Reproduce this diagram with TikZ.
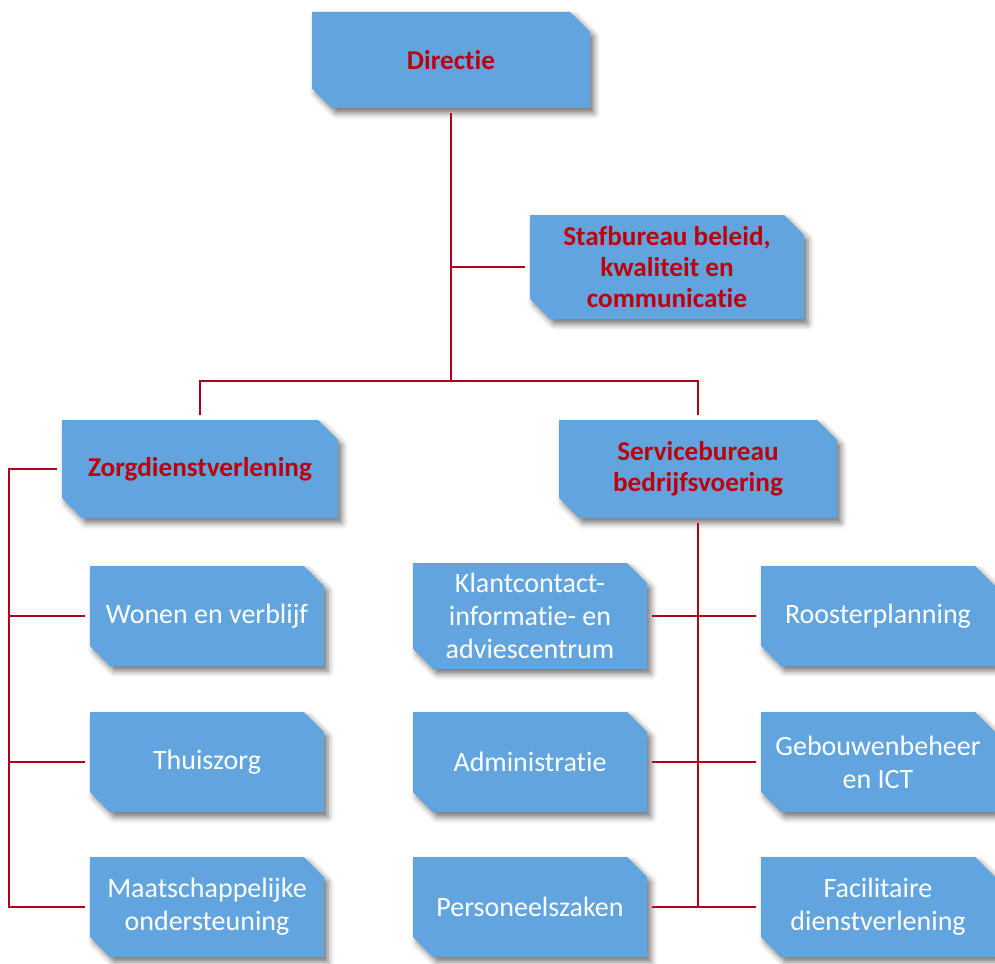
\documentclass[tikz,border=0pt]{standalone}
\usepackage{fontspec}
\setmainfont{Carlito}[Ligatures=CommonOff]
\usetikzlibrary{shapes.misc,shadows.blur}
\definecolor{boxblue}{RGB}{98,164,222}
\definecolor{linkred}{RGB}{178,0,28}
\definecolor{headred}{RGB}{188,0,10}

\begin{document}
\begin{tikzpicture}[x=0.5pt,y=-0.5pt,
  unit/.style={chamfered rectangle, chamfered rectangle corners={north east,south west}, chamfered rectangle sep=5pt,
    fill=boxblue, inner sep=0pt, outer sep=2.5pt, align=center,
    blur shadow={shadow xshift=2pt,shadow yshift=-2.5pt,shadow blur radius=3pt,shadow opacity=55}},
  head/.style={unit, text=headred, font=\bfseries\fontsize{13.6}{15.5}\selectfont},
  sub/.style={unit, text=white, font=\fontsize{14}{16.5}\selectfont, minimum width=117pt, minimum height=50pt},
  link/.style={draw=linkred, line width=1pt}]
\useasboundingbox (0,0) rectangle (995,963);
% top levels
\node[head, minimum width=139pt, minimum height=48pt] (dir) at (451,60) {Directie};
\node[head, minimum width=137pt, minimum height=52pt] (staf) at (667,267) {Stafbureau beleid,\\kwaliteit en\\communicatie};
\node[head, minimum width=138pt, minimum height=49pt] (zorg) at (200,469) {Zorgdienstverlening};
\node[head, minimum width=139pt, minimum height=49pt] (serv) at (698,469) {Servicebureau\\bedrijfsvoering};
% units
\node[sub] (wonen) at (207,616) {Wonen en verblijf};
\node[sub] (thuis) at (207,762) {Thuiszorg};
\node[sub] (maat) at (207,907) {Maatschappelijke\\ondersteuning};
\node[sub] (klant) at (530,616) {Klantcontact-\\informatie- en\\adviescentrum};
\node[sub] (admin) at (530,762) {Administratie};
\node[sub] (pers) at (530,907) {Personeelszaken};
\node[sub] (rooster) at (878,616) {Roosterplanning};
\node[sub] (gebouw) at (878,762) {Gebouwenbeheer\\en ICT};
\node[sub] (facil) at (878,907) {Facilitaire\\dienstverlening};
% connectors
\coordinate (fork) at (451,381); \coordinate (lrail) at (9,469);
\draw[link] (dir.south) -- (fork);
\draw[link] (dir.south |- staf.west) -- (staf.west);
\draw[link] (fork) -| (zorg.north); \draw[link] (fork) -| (serv.north);
\draw[link] (zorg.west) -- (lrail) |- (maat.west);
\foreach \n in {wonen,thuis} \draw[link] (lrail |- \n.west) -- (\n.west);
\draw[link] (serv.south) -- (serv.south |- facil.west);
\draw[link] (klant.east) -- (rooster.west); \draw[link] (admin.east) -- (gebouw.west); \draw[link] (pers.east) -- (facil.west);
\end{tikzpicture}
\end{document}
